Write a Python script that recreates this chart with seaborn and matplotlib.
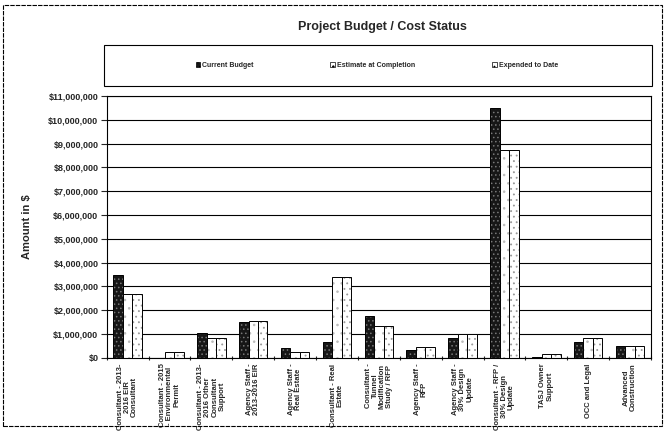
import seaborn as sns
import matplotlib.pyplot as plt
import matplotlib.patches as mpatches
import matplotlib.ticker as mticker
import pandas as pd

# chart data
categories = [
    'Consultant - 2013-\n2016 EIR\nConsultant',
    'Consultant - 2015\n- Environmental\nPermit',
    'Consultant - 2013-\n2016 Other\nConsultant\nSupport',
    'Agency Staff -\n2013-2016 EIR',
    'Agency Staff -\nReal Estate',
    'Consultant - Real\nEstate',
    'Consultant -\nTunnel\nModification\nStudy / RFP',
    'Agency Staff -\nRFP',
    'Agency Staff -\n30% Design\nUpdate',
    'Consultant - RFP /\n30% Design\nUpdate',
    'TASJ Owner\nSupport',
    'OCC and Legal',
    'Advanced\nConstruction',
]
current_budget = [3500000, 0, 1050000, 1500000, 400000, 650000, 1750000,
                  350000, 850000, 10500000, 50000, 650000, 500000]
estimate_at_completion = [2700000, 250000, 850000, 1550000, 250000, 3400000, 1350000,
                          450000, 1000000, 8750000, 150000, 850000, 500000]
expended_to_date = [2700000, 250000, 850000, 1550000, 250000, 3400000, 1350000,
                    450000, 1000000, 8750000, 150000, 850000, 500000]
series = ['Current Budget', 'Estimate at Completion', 'Expended to Date']

rows = []
for i, c in enumerate(categories):
    rows.append((c, series[0], current_budget[i]))
    rows.append((c, series[1], estimate_at_completion[i]))
    rows.append((c, series[2], expended_to_date[i]))
df = pd.DataFrame(rows, columns=['Category', 'Series', 'Amount'])

sns.set_style('white')
plt.rcParams['font.family'] = ['Liberation Sans', 'DejaVu Sans']
plt.rcParams['hatch.linewidth'] = 0.6

fig = plt.figure(figsize=(6.67, 4.36), dpi=100)
ax = fig.add_axes([0.160, 0.179, 0.816, 0.601])

palette = ['#161616', '#ffffff', '#ffffff']
sns.barplot(data=df, x='Category', y='Amount', hue='Series', hue_order=series,
            palette=palette, width=0.68, ax=ax, edgecolor='black', linewidth=0.7,
            legend=False, saturation=1)

hatches = ['....', '..', '...']
hcolors = ['#777777', '#bbbbbb', '#999999']
for cont, h, hc in zip(ax.containers, hatches, hcolors):
    for bar in cont:
        bar.set_hatch(h)
        bar._hatch_color = plt.matplotlib.colors.to_rgba(hc)

ax.set_ylim(0, 11000000)
ax.set_xlim(-0.5, len(categories) - 0.5)
ax.yaxis.set_major_locator(mticker.MultipleLocator(1000000))
ax.yaxis.set_major_formatter(mticker.FuncFormatter(lambda v, p: '${:,.0f}'.format(v)))
ax.yaxis.grid(True, color='black', linewidth=0.8)
ax.set_axisbelow(True)
for s in ax.spines.values():
    s.set_color('black')
    s.set_linewidth(0.8)

ax.tick_params(axis='y', labelsize=6.5, length=4, direction='out', left=True, width=0.8, pad=2)
ax.tick_params(axis='x', which='major', length=0, labelsize=5.5, pad=4)
ax.set_xticks([i + 0.5 for i in range(-1, len(categories))], minor=True)
ax.tick_params(axis='x', which='minor', length=3, direction='inout', bottom=True, width=0.8)
for lbl in ax.get_yticklabels():
    lbl.set_fontweight('bold')
ax.set_xticks(range(len(categories)))
ax.set_xticklabels(categories, rotation=90, ha='center', va='top',
                   fontweight='bold', linespacing=1.0)
ax.set_xlabel('')
ax.set_ylabel('Amount in $', fontsize=8, fontweight='bold', labelpad=12)

# legend in its own box across the top
handles = [mpatches.Patch(facecolor=palette[i], edgecolor='black', hatch=hatches[i],
                          linewidth=0.5, label=series[i]) for i in range(3)]
leg = fig.legend(handles=handles, ncol=3, loc='center',
                 bbox_to_anchor=(0.565, 0.849), fontsize=5, frameon=False,
                 handlelength=0.7, handleheight=0.7, handletextpad=0.3,
                 columnspacing=11)
for t in leg.get_texts():
    t.set_fontweight('bold')
fig.patches.append(mpatches.Rectangle((0.156, 0.803), 0.822, 0.094, transform=fig.transFigure,
                                      fill=False, edgecolor='black', linewidth=0.8))

fig.text(0.574, 0.938, 'Project Budget / Cost Status', ha='center', va='center',
         fontsize=9, fontweight='bold')

fig.patches.append(mpatches.Rectangle((0.005, 0.022), 0.988, 0.967, transform=fig.transFigure,
                                      fill=False, edgecolor='black', linewidth=0.8,
                                      linestyle=(0, (4, 1))))

fig.savefig('out.png', dpi=100)
